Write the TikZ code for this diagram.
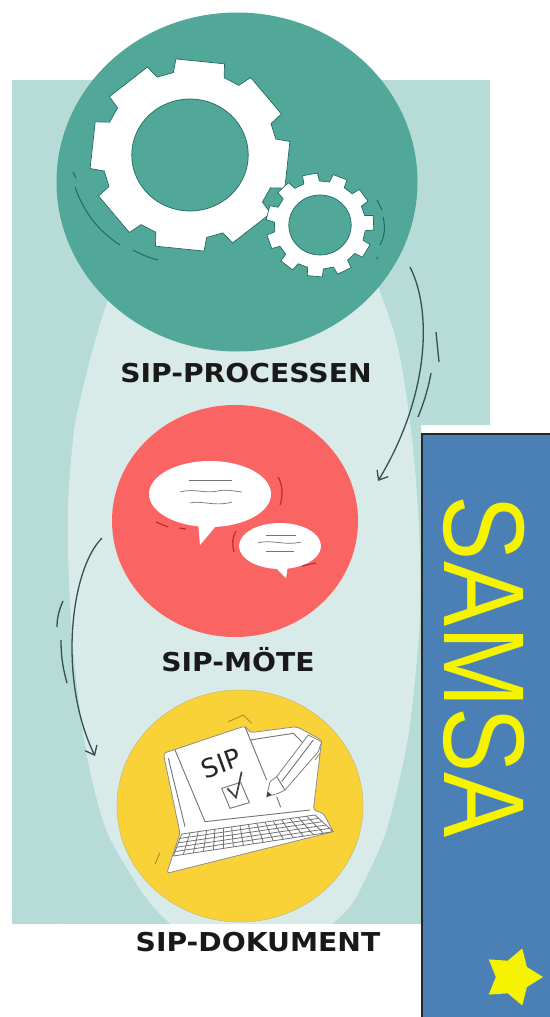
\documentclass[tikz,border=0pt]{standalone}
\usepackage{fontspec}
\setmainfont{DejaVu Sans}
\newfontfamily\samsafont{Liberation Sans}
\usetikzlibrary{shapes.geometric,arrows.meta,calc}
\definecolor{bgteal}{HTML}{B7DBD7}
\definecolor{halo}{HTML}{D9EBE9}
\definecolor{teal}{HTML}{51A798}
\definecolor{darkteal}{HTML}{1F6A60}
\definecolor{salmon}{HTML}{FA6563}
\definecolor{darkred}{HTML}{B02A30}
\definecolor{sun}{HTML}{F8D236}
\definecolor{olive}{HTML}{A08A20}
\definecolor{panel}{HTML}{4A80B5}
\definecolor{samsa}{HTML}{F5F300}
\definecolor{inkline}{HTML}{35504F}
\tikzset{
	disc/.style={ellipse, inner sep=0pt, minimum width=#1},
	caption/.style={font=\fontsize{26}{26}\selectfont\bfseries, text=black!90, inner sep=0pt, xscale=1.085},
	pil/.style={draw=inkline, line width=1.3pt, -{Straight Barb[length=8pt,width=13pt]}},
	tick/.style={draw=inkline, line width=1.3pt},
	gearline/.style={fill=white, draw=darkteal, line width=.7pt},
	bubble/.style={ellipse, fill=white, inner sep=0pt},
	scribble/.style={draw=black!55, line width=.7pt},
	redmark/.style={draw=darkred, line width=1.1pt},
	sketch/.style={draw=black!55, line width=.9pt},
	keyline/.style={draw=black!55, line width=.8pt}
}
% one gear: #1 teeth, #2 phase, #3 outer radius, #4 root radius, #5 outer half angle, #6 root half angle
\newcommand{\gearshape}[6]{
	\filldraw[gearline] (#2-#6:#4)
	\foreach \k in {1,...,#1} {
		-- ({#2+(\k-1)*360/#1-#5}:#3) -- ({#2+(\k-1)*360/#1+#5}:#3)
		-- ({#2+(\k-1)*360/#1+#6}:#4) -- ({#2+\k*360/#1-#6}:#4)
	} -- cycle;
}
\begin{document}
\begin{tikzpicture}[x=1pt, y=-1pt]
	\useasboundingbox (0,0) rectangle (549,1017);
	%background
	\fill[bgteal] (12,80) -- (490,80) -- (490,425) -- (421,425) -- (421,924) -- (12,924) -- cycle;
	\fill[halo] plot[smooth cycle, tension=.7] coordinates {(240,960) (172,925) (125,865) (97,800) (77,686) (68,548) (72,450) (83,388) (107,303) (140,220) (240,180) (340,220) (383,300) (407,400) (420,560) (414,690) (397,790) (372,865) (330,925)};
	\fill[white] (60,924) rectangle (421,1017);
	%circles
	\node[disc=361pt, minimum height=339pt, fill=teal] (proces) at (237,182) {};
	\node[disc=246pt, minimum height=232pt, fill=salmon] (mote) at (235,521) {};
	\node[disc=246pt, minimum height=232pt, fill=sun, draw=olive!60, line width=.5pt] (dok) at (240,806) {};
	\node[caption] (procestext) at (246,373) {SIP-PROCESSEN};
	\node[caption] (motetext) at (238,660) {SIP-MÖTE};
	\node[caption] (doktext) at (258,942) {SIP-DOKUMENT};
	%gears
	\begin{scope}[shift={(190,155)}, xscale=1.04]
		\gearshape{8}{6}{97}{84}{14}{17}
		\filldraw[fill=teal, draw=darkteal, line width=.7pt] (0,0) circle (56);
	\end{scope}
	\begin{scope}[shift={(320,225)}, xscale=1.04]
		\gearshape{11}{-68}{52}{44}{8}{10}
		\filldraw[fill=teal, draw=darkteal, line width=.7pt] (0,0) circle (30);
	\end{scope}
	\draw[draw=darkteal, line width=1pt] (73,172) -- (76,178);
	\draw[draw=darkteal, line width=1pt] (75,187) .. controls (85,215) and (100,232) .. (120,245);
	\draw[draw=darkteal, line width=1pt] (133,250) .. controls (142,255) and (150,258) .. (158,260);
	\draw[draw=darkteal, line width=1pt] (377,200) -- (382,210);
	\draw[draw=darkteal, line width=1pt] (383,217) .. controls (386,228) and (384,238) .. (380,245);
	\draw[draw=darkteal, line width=1pt] (378,257) -- (376,259);
	%speech bubbles
	\node[bubble, minimum width=122pt, minimum height=66pt] (talkA) at (210,494) {};
	\node[bubble, minimum width=82pt, minimum height=46pt] (talkB) at (280,546) {};
	\fill[white] (198,522) -- (200,545) -- (216,526) -- cycle;
	\fill[white] (272,564) -- (286,578) -- (288,565) -- cycle;
	\draw[scribble] (189,480) -- (232,480);
	\draw[scribble] (180,492) .. controls (195,488) and (205,494) .. (218,491) .. controls (226,489) and (232,491) .. (242,492);
	\draw[scribble] (190,503) .. controls (200,500) and (215,507) .. (232,502);
	\draw[scribble] (266,535) -- (296,535);
	\draw[scribble] (258,543) .. controls (270,539) and (285,546) .. (301,542);
	\draw[scribble] (266,551) -- (294,551);
	\draw[redmark] (278,477) .. controls (283,485) and (283,497) .. (280,505);
	\draw[redmark] (156,522) -- (168,527);
	\draw[redmark] (179,528) -- (186,529);
	\draw[redmark] (236,531) .. controls (232,538) and (232,545) .. (234,552);
	\draw[redmark] (302,566) -- (316,563);
	%laptop
	\begin{scope}[shift={(150,710)}, x=.3333pt, y=-.3333pt]
		\filldraw[fill=white, draw=black!45, line width=.8pt, rounded corners=3pt] (40,130) -- (285,48) -- (300,68) -- (440,50) -- (515,90) -- (490,300) -- (520,310) -- (550,365) -- (50,490) -- (90,370) -- cycle;
		\draw[sketch] (55,145) -- (105,350);
		\draw[sketch] (75,120) -- (165,335);
		\draw[sketch] (285,50) -- (350,210);
		\draw[sketch] (300,90) -- (430,70) -- (465,105);
		\draw[sketch] (165,335) -- (480,300);
		\draw[sketch] (380,260) -- (392,292);
		\node[font=\fontsize{26}{26}\selectfont, text=black!85, rotate=20, inner sep=0pt] (siptext) at (213,160) {SIP};
		\draw[sketch] (215,235) -- (272,217) -- (298,278) -- (240,295) -- cycle;
		\draw[line width=1.7pt, black!75] (232,235) -- (258,262) -- (275,185);
		\filldraw[fill=white, draw=black!50, line width=.8pt] (350,260) -- (360,215) -- (380,200) -- (475,75) -- (515,95) -- (505,125) -- (405,240) -- (385,250) -- cycle;
		\draw[sketch] (395,215) -- (490,90);
		\draw[sketch] (380,200) -- (405,240);
		\fill[black!75] (350,260) -- (353,245) -- (365,255) -- cycle;
		%keyboard
		\coordinate (keyTL) at (95,372);
		\coordinate (keyBL) at (70,438);
		\coordinate (keyTR) at (495,315);
		\coordinate (keyBR) at (550,365);
		\foreach \t in {0,.2,.4,.6,.8,1} {
			\draw[keyline] ($(keyTL)!\t!(keyBL)$) -- ($(keyTR)!\t!(keyBR)$);
		}
		\foreach \t in {0,.0625,...,1.01} {
			\draw[keyline] ($(keyTL)!\t!(keyTR)$) -- ($(keyBL)!\t!(keyBR)$);
		}
		\draw[draw=olive, line width=.8pt] (235,35) -- (280,15) -- (305,40);
		\draw[draw=olive, line width=.8pt] (495,150) -- (510,130);
		\draw[draw=olive, line width=.8pt] (15,462) -- (30,428);
	\end{scope}
	%arrows
	\coordinate (pilAstart) at (410,267);
	\coordinate (pilAend) at (378,481);
	\coordinate (pilBstart) at (102,538);
	\coordinate (pilBend) at (95,756);
	\draw[pil] (pilAstart) .. controls (432,310) and (430,395) .. (pilAend);
	\draw[pil] (pilBstart) .. controls (70,570) and (58,680) .. (pilBend);
	\draw[tick] (436,332) -- (439,362);
	\draw[tick] (431,373) .. controls (428,390) and (423,405) .. (418,417);
	\draw[tick] (63,601) .. controls (59,610) and (57,618) .. (57,627);
	\draw[tick] (61,640) .. controls (61,660) and (64,672) .. (67,683);
	%panel
	\filldraw[fill=panel, draw=black!85, line width=2pt] (422,434) rectangle (560,1030);
	\node[font=\samsafont\fontsize{115}{115}\selectfont, text=samsa, rotate=-90, xscale=.85, inner sep=0pt] (samsatext) at (484,667) {SAMSA};
	\node[star, star points=5, star point ratio=1.75, fill=samsa, inner sep=0pt, minimum size=60pt, rotate=-18] (samsastar) at (513,977) {};
\end{tikzpicture}
\end{document}
